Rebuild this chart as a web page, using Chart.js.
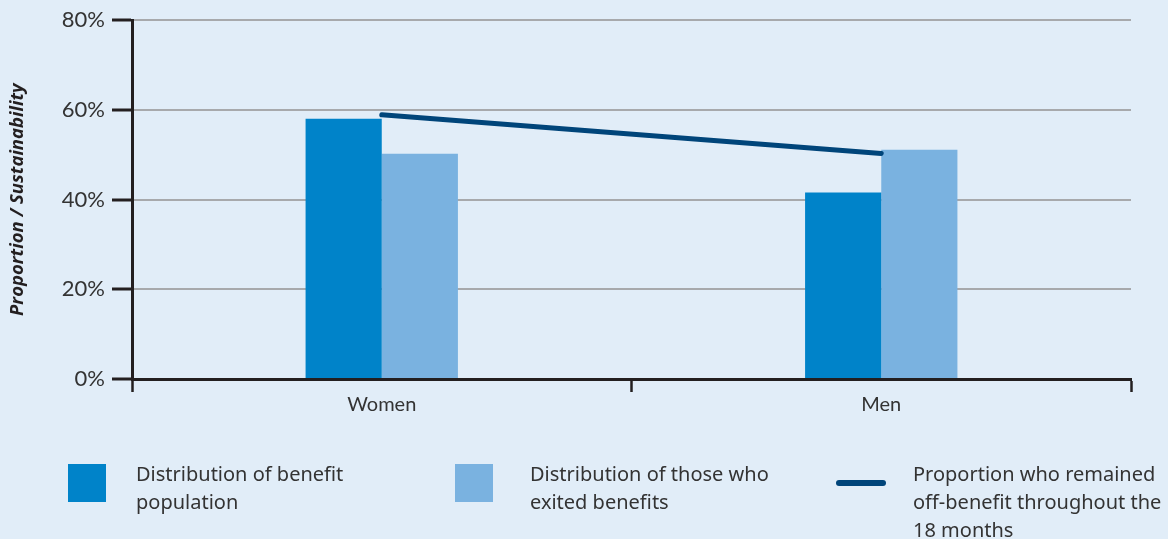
<!DOCTYPE html>
<html>
<head>
<meta charset="utf-8">
<script src="https://cdn.jsdelivr.net/npm/chart.js@4"></script>
<style>
  html, body { margin:0; padding:0; background:#e1edf8; }
  #wrap { position:relative; width:1168px; height:539px; background:#e1edf8; overflow:hidden; }
  #chartBox { position:absolute; left:0; top:0; width:1168px; height:420px; }
  #legend { position:absolute; left:0; top:0; width:1168px; height:539px; pointer-events:none; }
  .item { position:absolute; font-family:"Noto Sans", "Open Sans", sans-serif; font-size:20px; line-height:28px; color:#333; }
  .sw { position:absolute; }
  .txt { position:absolute; white-space:nowrap; }
</style>
</head>
<body>
<div id="wrap">
  <div id="chartBox"><canvas id="c"></canvas></div>
  <div id="legend"></div>
</div>
<script>
const categories = ["Women", "Men"];
const benefitPopulation = [58.0, 41.6];
const exitedBenefits = [50.2, 51.1];
const remainedOffBenefit = [58.9, 50.3];
const seriesNames = [
  ["Distribution of benefit", "population"],
  ["Distribution of those who", "exited benefits"],
  ["Proportion who remained", "off-benefit throughout the", "18 months"]
];
const yTicks = [0, 20, 40, 60, 80];

const colDark = "#0083c9";
const colLight = "#7ab2e0";
const colLine = "#00457a";
const axisCol = "#231f20";

const chart = new Chart(document.getElementById("c"), {
  type: "bar",
  data: {
    labels: categories,
    datasets: [
      { type: "line", label: seriesNames[2].join(" "), data: remainedOffBenefit,
        borderColor: colLine, borderWidth: 5, borderCapStyle: "round",
        pointRadius: 0, fill: false, order: 0 },
      { label: seriesNames[0].join(" "), data: benefitPopulation, backgroundColor: colDark,
        categoryPercentage: 0.305, barPercentage: 1.0, order: 1 },
      { label: seriesNames[1].join(" "), data: exitedBenefits, backgroundColor: colLight,
        categoryPercentage: 0.305, barPercentage: 1.0, order: 2 }
    ]
  },
  options: {
    responsive: true,
    maintainAspectRatio: false,
    animation: false,
    layout: { padding: { left: 0, right: 37, top: 18, bottom: 0 } },
    plugins: { legend: { display: false }, tooltip: { enabled: false } },
    scales: {
      x: {
        grid: { display: true, drawOnChartArea: false, drawTicks: true, tickLength: 13,
                tickColor: axisCol, tickWidth: 2.5, offset: true },
        border: { display: true, color: axisCol, width: 3 },
        ticks: { color: "#333", font: { family: "Lato, 'Open Sans', sans-serif", size: 20 }, padding: 1 },
        afterFit: (s) => { s.height = 41; }
      },
      y: {
        min: 0, max: 80,
        afterBuildTicks: (s) => { s.ticks = yTicks.map(v => ({ value: v })); },
        grid: { color: "#a7a9ac", lineWidth: 2, drawTicks: true, tickLength: 20,
                tickColor: axisCol, tickWidth: 3 },
        border: { display: true, color: axisCol, width: 3 },
        ticks: { color: "#333", font: { family: "Lato, 'Open Sans', sans-serif", size: 22 },
                 padding: 7, callback: (v) => v + "%" },
        title: { display: true, text: "Proportion / Sustainability", color: "#231f20",
                 font: { family: "'Open Sans', sans-serif", size: 18.5, weight: "bold", style: "italic" },
                 padding: { top: 7, bottom: 0 } },
        afterFit: (s) => { s.width = 132; }
      }
    }
  }
});

// HTML legend built from series names
const legend = document.getElementById("legend");
const legendDefs = [
  { kind: "box", color: colDark, swX: 68, txtX: 136, lines: seriesNames[0] },
  { kind: "box", color: colLight, swX: 455, txtX: 530, lines: seriesNames[1] },
  { kind: "line", color: colLine, swX: 836, txtX: 913, lines: seriesNames[2] }
];
legendDefs.forEach(d => {
  const sw = document.createElement("div");
  sw.className = "sw";
  if (d.kind === "box") {
    Object.assign(sw.style, { left: d.swX + "px", top: "464px", width: "38px", height: "38px", background: d.color });
  } else {
    Object.assign(sw.style, { left: d.swX + "px", top: "480px", width: "50px", height: "6px", background: d.color, borderRadius: "3px" });
  }
  legend.appendChild(sw);
  const t = document.createElement("div");
  t.className = "item txt";
  t.style.left = d.txtX + "px";
  t.style.top = "460px";
  t.innerHTML = d.lines.map(l => l.replace(/&/g, "&amp;")).join("<br>");
  legend.appendChild(t);
});
</script>
</body>
</html>
